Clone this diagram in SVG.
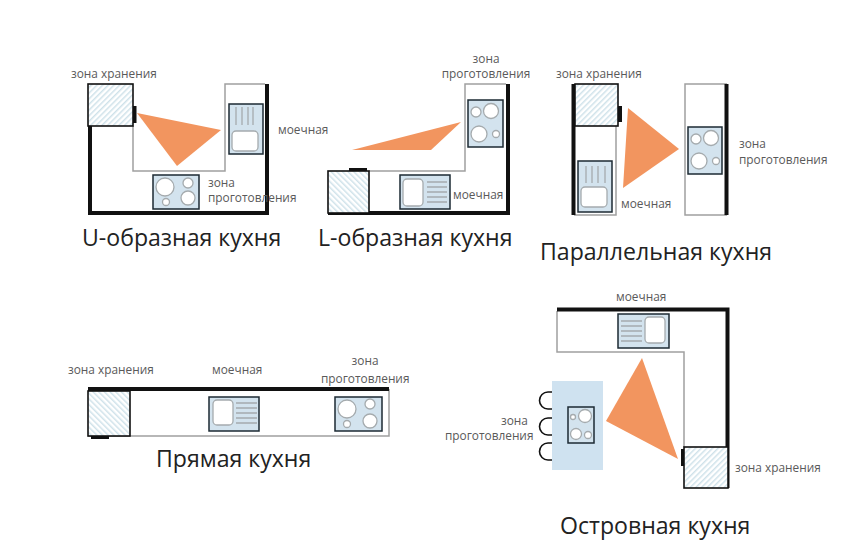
<svg xmlns="http://www.w3.org/2000/svg" width="850" height="549" viewBox="0 0 850 549">
<style>
text{font-family:"Open Sans","Liberation Sans",sans-serif}
.l{font-size:11.85px;fill:#5a5a5a}
.t{font-size:23.1px;fill:#222}
.m{text-anchor:middle}
.w{fill:none;stroke:#111;stroke-width:4}
.g{fill:none;stroke:#a0a0a0;stroke-width:1.5}
.h{fill:url(#hatch);stroke:#111;stroke-width:1.6}
.h2{fill:url(#hatch2);stroke:#111;stroke-width:1.6}
.b{fill:#111}
.tr{fill:#f2955f}
.u{fill:#d3e3ee;stroke:#1c2a33;stroke-width:1.5}
.c{fill:#fff;stroke:#a5abae;stroke-width:1.3}
.s{stroke:#a5abae;stroke-width:1.3;fill:none}
.st{fill:none;stroke:#111;stroke-width:1.6}
</style>
<defs>
<pattern id="hatch" width="4" height="4" patternUnits="userSpaceOnUse" patternTransform="rotate(45)">
<rect width="4" height="4" fill="#fff"/><rect width="1.500" height="4" fill="#cfe2ea"/>
</pattern>
<pattern id="hatch2" width="4" height="4" patternUnits="userSpaceOnUse" patternTransform="rotate(-45)">
<rect width="4" height="4" fill="#fff"/><rect width="1.500" height="4" fill="#cfe2ea"/>
</pattern>
</defs>
<rect width="850" height="549" fill="#fff"/>

<g id="u-kitchen">
<path class="g" d="M133 126V171H225V84H265"/>
<path class="w" d="M90 126V213H267V84"/>
<rect class="h" x="88" y="84" width="45" height="42"/>
<rect class="b" x="133" y="106" width="3.500" height="17"/>
<polygon class="tr" points="137,113 221,130 177,166"/>
<g id="u-sink"><rect class="u" x="229" y="104" width="34" height="50"/><path class="s" d="M236 107V125M242 107V125M248 107V125M253 107V125"/><rect class="c" x="232" y="131" width="26" height="20" rx="4"/></g>
<g id="u-hob"><rect class="u" x="153" y="175" width="46" height="34"/><circle class="c" cx="165" cy="187" r="9"/><circle class="c" cx="188" cy="183" r="5"/><circle class="c" cx="188" cy="198" r="7"/><circle class="c" cx="166" cy="202" r="3.500"/></g>
<text class="l" x="71" y="78">зона хранения</text>
<text class="l" x="278" y="134">моечная</text>
<text class="l" x="208" y="187">зона</text>
<text class="l" x="208" y="202">проготовления</text>
<text class="t" x="82" y="246">U-образная кухня</text>
</g>

<g id="l-kitchen">
<path class="g" d="M369 171H465V84H506"/>
<path class="w" d="M328 213H508V84"/>
<rect class="h2" x="328" y="171" width="41" height="42"/>
<rect class="b" x="349" y="168" width="18" height="3"/>
<polygon class="tr" points="352,150 461,122 431,150"/>
<g id="l-hob"><rect class="u" x="468" y="100" width="35" height="47"/><circle class="c" cx="476" cy="112" r="5"/><circle class="c" cx="491" cy="111" r="7.500"/><circle class="c" cx="479" cy="134" r="8"/><circle class="c" cx="496" cy="134" r="3.500"/></g>
<g id="l-sink"><rect class="u" x="400" y="175" width="50" height="34"/><rect class="c" x="403" y="179" width="20" height="27" rx="4"/><path class="s" d="M427 182H447M427 187H447M427 192H447M427 197H447M427 202H447"/></g>
<text class="l m" x="486" y="63">зона</text>
<text class="l m" x="486" y="78">проготовления</text>
<text class="l" x="453" y="199">моечная</text>
<text class="t" x="318" y="246">L-образная кухня</text>
</g>

<g id="parallel-kitchen">
<path class="g" d="M616 126V215H574"/>
<path class="g" d="M727 84H685V215H727"/>
<path class="w" d="M573.500 84V215"/>
<path class="w" d="M726.500 84V215"/>
<rect class="h" x="575" y="84" width="43" height="42"/>
<rect class="b" x="618" y="106" width="4" height="16"/>
<polygon class="tr" points="628,108 679,149 623,188"/>
<g id="p-sink"><rect class="u" x="578" y="161" width="34" height="51"/><path class="s" d="M586 166V183M592 166V183M598 166V183M605 166V183"/><rect class="c" x="581" y="187" width="26" height="20" rx="4"/></g>
<g id="p-hob"><rect class="u" x="688" y="127" width="34" height="47"/><circle class="c" cx="696" cy="139" r="5"/><circle class="c" cx="711" cy="138" r="7.500"/><circle class="c" cx="699" cy="161" r="8"/><circle class="c" cx="716" cy="161" r="3.500"/></g>
<text class="l" x="556" y="78">зона хранения</text>
<text class="l" x="621" y="208">моечная</text>
<text class="l" x="739" y="148">зона</text>
<text class="l" x="739" y="164">проготовления</text>
<text class="t" x="540" y="260">Параллельная кухня</text>
</g>

<g id="straight-kitchen">
<path class="g" d="M88 436H389V389"/>
<path class="w" d="M88 389H389"/>
<rect class="h2" x="88" y="391" width="42" height="45"/>
<rect class="b" x="91" y="436" width="18" height="3"/>
<g id="s-sink"><rect class="u" x="209" y="397" width="50" height="34"/><rect class="c" x="213" y="400" width="20" height="25" rx="4"/><path class="s" d="M236 403H257M236 408H257M236 413H257M236 418H257M236 423H257"/></g>
<g id="s-hob"><rect class="u" x="335" y="397" width="47" height="34"/><circle class="c" cx="347" cy="409" r="9"/><circle class="c" cx="370" cy="404" r="5"/><circle class="c" cx="370" cy="421" r="7"/><circle class="c" cx="347" cy="424" r="3.500"/></g>
<text class="l" x="68" y="374">зона хранения</text>
<text class="l" x="212" y="374">моечная</text>
<text class="l m" x="365" y="365">зона</text>
<text class="l" x="321" y="383">проготовления</text>
<text class="t" x="156" y="467">Прямая кухня</text>
</g>

<g id="island-kitchen">
<path class="g" d="M557 311V352H684V447"/>
<path class="w" d="M557 309.500H727.500V488"/>
<rect class="h" x="684" y="447" width="44" height="41"/>
<rect class="b" x="681" y="449" width="3" height="17"/>
<polygon class="tr" points="642,358 606,421 678,459"/>
<g id="i-sink"><rect class="u" x="618" y="314" width="51" height="34"/><path class="s" d="M621 321H642M621 326H642M621 331H642M621 336H642M621 341H642"/><rect class="c" x="645" y="317" width="20" height="26" rx="4"/></g>
<g id="i-island"><rect x="552" y="381" width="51" height="89" fill="#cfe2f0"/>
<path class="st" d="M552 392H548A8.500 8.500 0 0 0 548 409H552M552 418H548A8.500 8.500 0 0 0 548 435H552M552 443H548A8.500 8.500 0 0 0 548 460H552"/>
<rect class="u" x="568" y="407" width="26" height="36"/><circle class="c" cx="573" cy="417" r="2.500"/><circle class="c" cx="585" cy="416" r="6.500"/><circle class="c" cx="576" cy="434" r="5.500"/><circle class="c" cx="588" cy="435" r="3.500"/></g>
<text class="l" x="616" y="301">моечная</text>
<text class="l" x="501" y="425">зона</text>
<text class="l" x="445" y="440">проготовления</text>
<text class="l" x="735" y="472">зона хранения</text>
<text class="t" x="560" y="534">Островная кухня</text>
</g>
</svg>
